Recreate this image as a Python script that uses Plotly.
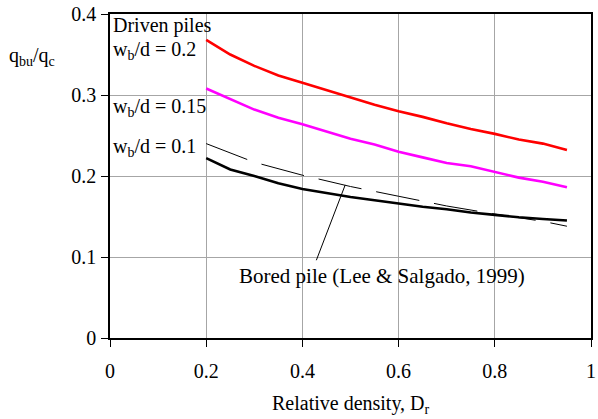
import plotly.graph_objects as go

# Relative density (x) for the driven-pile curves
dr = [0.2, 0.25, 0.3, 0.35, 0.4, 0.45, 0.5, 0.55, 0.6, 0.65, 0.7, 0.75, 0.8, 0.85, 0.9, 0.95]

# q_bu/q_c for driven piles at three settlement levels
wb_02 = [0.368, 0.350, 0.336, 0.324, 0.315, 0.306, 0.297, 0.288, 0.280, 0.273, 0.265, 0.258, 0.252, 0.245, 0.240, 0.232]
wb_015 = [0.308, 0.295, 0.282, 0.272, 0.264, 0.255, 0.246, 0.239, 0.230, 0.223, 0.216, 0.212, 0.205, 0.198, 0.193, 0.186]
wb_01 = [0.222, 0.208, 0.200, 0.191, 0.184, 0.179, 0.174, 0.170, 0.166, 0.162, 0.159, 0.155, 0.152, 0.149, 0.147, 0.145]

# Bored pile curve (Lee & Salgado, 1999)
dr_bored = [0.2, 0.3, 0.4, 0.5, 0.6, 0.7, 0.8, 0.9, 0.95]
bored = [0.240, 0.217, 0.201, 0.187, 0.175, 0.163, 0.153, 0.144, 0.138]

x_ticks = [0, 0.2, 0.4, 0.6, 0.8, 1]
x_tick_text = ["0", "0.2", "0.4", "0.6", "0.8", "1"]
y_ticks = [0, 0.1, 0.2, 0.3, 0.4]
y_tick_text = ["0", "0.1", "0.2", "0.3", "0.4"]

FONT = "Liberation Serif"
W, H = 598, 419
ML, MR, MT, MB = 110, 2, 14, 81
PW, PH = W - ML - MR, H - MT - MB


def px_x(p):
    return (p - ML) / PW


def px_y(p):
    return (H - MB - p) / PH


fig = go.Figure()
fig.add_trace(go.Scatter(x=dr, y=wb_02, mode="lines", line=dict(color="#ff0000", width=2.6)))
fig.add_trace(go.Scatter(x=dr, y=wb_015, mode="lines", line=dict(color="#ff00ff", width=2.6)))
fig.add_trace(go.Scatter(x=dr, y=wb_01, mode="lines", line=dict(color="#000000", width=2.6)))
fig.add_trace(go.Scatter(x=dr_bored, y=bored, mode="lines",
                         line=dict(color="#000000", width=1, dash="44px,15px")))

# leader line from the bored-pile label to its curve
fig.add_shape(type="line", x0=0.429, y0=0.096, x1=0.489, y1=0.189,
              line=dict(color="#000000", width=1))

text_font = dict(family=FONT, size=20, color="#000000")
labels = [
    ("Driven piles", 25),
    ("w<sub>b</sub>/d = 0.2", 51),
    ("w<sub>b</sub>/d = 0.15", 107),
    ("w<sub>b</sub>/d = 0.1", 147),
]
for txt, ypix in labels:
    fig.add_annotation(x=px_x(111), y=px_y(ypix), xref="paper", yref="paper",
                       text=txt, showarrow=False, xanchor="left", yanchor="middle",
                       font=text_font)

fig.add_annotation(x=0.565, y=0.0765, xref="x", yref="y",
                   text="Bored pile (Lee &amp; Salgado, 1999)", showarrow=False,
                   xanchor="center", yanchor="middle",
                   font=dict(family=FONT, size=21, color="#000000"))

fig.add_annotation(x=px_x(6), y=px_y(56), xref="paper", yref="paper",
                   text="q<sub>bu</sub>/q<sub>c</sub>",
                   showarrow=False, xanchor="left", yanchor="middle", font=text_font)

fig.add_annotation(x=0.5, y=px_y(404), xref="paper", yref="paper",
                   text="Relative density, D<sub>r</sub>", showarrow=False,
                   xanchor="center", yanchor="middle", font=text_font)

fig.update_layout(
    width=W, height=H,
    margin=dict(l=ML, r=MR, t=MT, b=MB),
    paper_bgcolor="white", plot_bgcolor="white",
    showlegend=False,
    font=text_font,
)
fig.update_xaxes(range=[0, 1], tickvals=x_ticks, ticktext=x_tick_text,
                 tickfont=text_font, ticklabeloverflow="allow",
                 showgrid=True, gridcolor="#a6a6a6", gridwidth=1,
                 showline=True, linecolor="#000000", linewidth=1.5, mirror=True,
                 ticks="outside", ticklen=7, tickcolor="#000000", tickwidth=1,
                 zeroline=False, ticklabelstandoff=7, fixedrange=True)
fig.update_yaxes(range=[0, 0.4], tickvals=y_ticks, ticktext=y_tick_text,
                 tickfont=text_font,
                 showgrid=True, gridcolor="#a6a6a6", gridwidth=1,
                 showline=True, linecolor="#000000", linewidth=1.5, mirror=True,
                 ticks="outside", ticklen=7, tickcolor="#000000", tickwidth=1,
                 zeroline=False, ticklabelstandoff=1, fixedrange=True)

fig.write_html("out.html")
